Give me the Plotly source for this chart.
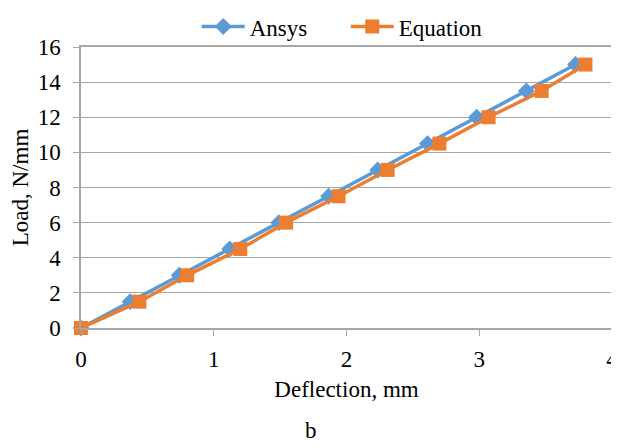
import plotly.graph_objects as go

load = [0, 1.5, 3, 4.5, 6, 7.5, 9, 10.5, 12, 13.5, 15]
ansys_defl = [0, 0.37, 0.74, 1.12, 1.49, 1.865, 2.235, 2.61, 2.98, 3.355, 3.725]
equation_defl = [0, 0.44, 0.80, 1.20, 1.545, 1.94, 2.31, 2.70, 3.07, 3.47, 3.80]
x_ticks = [0, 1, 2, 3, 4]
y_ticks = [0, 2, 4, 6, 8, 10, 12, 14, 16]

FONT = "Liberation Serif"
FS = 23

fig = go.Figure()
fig.add_trace(go.Scatter(
    x=ansys_defl, y=load, name="Ansys", mode="lines+markers",
    line=dict(color="#5B9BD5", width=3.5),
    marker=dict(symbol="diamond", size=13, color="#5B9BD5"),
    cliponaxis=False,
))
fig.add_trace(go.Scatter(
    x=equation_defl, y=load, name="Equation", mode="lines+markers",
    line=dict(color="#ED7D31", width=3.5),
    marker=dict(symbol="square", size=14, color="#ED7D31"),
    cliponaxis=False,
))

axis_common = dict(
    showline=True, linecolor="#a6a6a6", linewidth=1.5, mirror=True,
    ticks="outside", tickcolor="#a6a6a6", ticklen=6, tickwidth=1.2,
    tickfont=dict(family=FONT, size=FS, color="black"),
    zeroline=False, automargin=False,
)

fig.update_xaxes(
    range=[0, 4], tickvals=x_ticks, showgrid=False, ticklabelstandoff=4,
    title=dict(text="Deflection, mm", font=dict(family=FONT, size=FS, color="black"), standoff=10),
    **axis_common,
)
fig.update_yaxes(
    range=[0, 16], tickvals=y_ticks, showgrid=True, gridcolor="#a6a6a6", gridwidth=1.2,
    ticklabelstandoff=8,
    title=dict(text="Load, N/mm", font=dict(family=FONT, size=FS, color="black"), standoff=4),
    **axis_common,
)

fig.update_layout(
    width=611, height=440,
    margin=dict(l=73, r=7, t=39, b=120, autoexpand=False),
    paper_bgcolor="white", plot_bgcolor="white",
    font=dict(family=FONT, size=FS, color="black"),
    showlegend=True,
    legend=dict(
        orientation="h", x=0.218, xanchor="left", y=0.996, yanchor="bottom",
        font=dict(family=FONT, size=FS, color="black"),
        bgcolor="rgba(0,0,0,0)", itemwidth=43,
        entrywidth=91, entrywidthmode="pixels",
    ),
    annotations=[dict(
        text="b", x=0.433, xref="paper", y=-0.363, yref="paper",
        yanchor="middle", xanchor="center", showarrow=False,
        font=dict(family=FONT, size=FS, color="black"),
    )],
)

fig.write_html("out.html")
